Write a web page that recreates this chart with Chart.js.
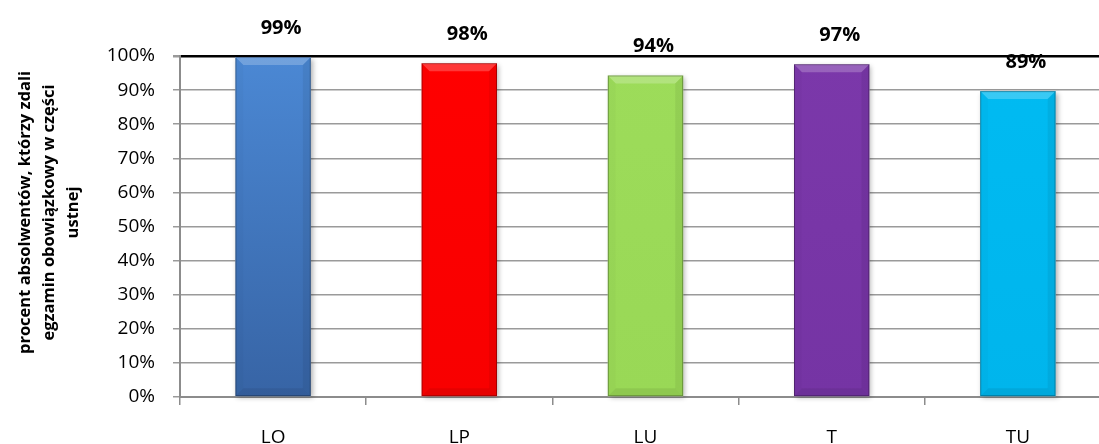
<!DOCTYPE html>
<html><head><meta charset="utf-8">
<script src="https://cdn.jsdelivr.net/npm/chart.js@4/dist/chart.umd.min.js"></script>
<style>
html,body{margin:0;padding:0;background:#fff;overflow:hidden;}
#wrap{position:relative;width:1120px;height:444px;}
</style></head><body>
<div id="wrap"><canvas id="c"></canvas></div>
<script>
const categories = ['LO', 'LP', 'LU', 'T', 'TU'];
const values = [99.7, 97.9, 94.3, 97.6, 89.7];
const valueLabels = ['99%', '98%', '94%', '97%', '89%'];
const axisTitle = ['procent absolwentów, którzy zdali', 'egzamin obowiązkowy w części', 'ustnej'];
const colorsTop = ['#4b88d4', '#ff0000', '#9ddc5a', '#7b38aa', '#00bbf2'];
const colorsBottom = ['#3764a5', '#f80000', '#99d856', '#7534a4', '#00b5ec'];

const FONT = "'Open Sans', 'Liberation Sans', sans-serif";

const shadowPlugin = {
  id: 'barShadow',
  beforeDatasetsDraw(chart) {
    const ctx = chart.ctx;
    const meta = chart.getDatasetMeta(0);
    ctx.save();
    ctx.shadowColor = 'rgba(0,0,0,0.3)';
    ctx.shadowBlur = 5;
    ctx.shadowOffsetX = 2;
    ctx.shadowOffsetY = 2;
    ctx.fillStyle = '#ffffff';
    meta.data.forEach(bar => {
      const w = bar.width;
      ctx.fillRect(bar.x - w / 2, bar.y, w, bar.base - bar.y);
    });
    ctx.restore();
  }
};

const bevelPlugin = {
  id: 'bevel',
  afterDatasetsDraw(chart) {
    const ctx = chart.ctx;
    const meta = chart.getDatasetMeta(0);
    const b = 8;
    ctx.save();
    meta.data.forEach(bar => {
      const l = bar.x - bar.width / 2, r = bar.x + bar.width / 2, t = bar.y, btm = bar.base;
      ctx.fillStyle = 'rgba(255,255,255,0.22)';
      ctx.beginPath();
      ctx.moveTo(l, t); ctx.lineTo(r, t); ctx.lineTo(r - b, t + b); ctx.lineTo(l + b, t + b); ctx.closePath();
      ctx.fill();
      ctx.fillStyle = 'rgba(0,0,0,0.06)';
      ctx.beginPath();
      ctx.moveTo(r, t); ctx.lineTo(r, btm); ctx.lineTo(r - b, btm - b); ctx.lineTo(r - b, t + b); ctx.closePath();
      ctx.fill();
      ctx.fillStyle = 'rgba(0,0,0,0.02)';
      ctx.beginPath();
      ctx.moveTo(l, t); ctx.lineTo(l + b, t + b); ctx.lineTo(l + b, btm - b); ctx.lineTo(l, btm); ctx.closePath();
      ctx.fill();
      ctx.fillStyle = 'rgba(0,0,0,0.07)';
      ctx.beginPath();
      ctx.moveTo(l, btm); ctx.lineTo(l + b, btm - b); ctx.lineTo(r - b, btm - b); ctx.lineTo(r, btm); ctx.closePath();
      ctx.fill();
      ctx.strokeStyle = 'rgba(0,0,0,0.3)';
      ctx.lineWidth = 1;
      ctx.strokeRect(l + 0.5, t + 0.5, bar.width - 1, btm - t - 1);
    });
    ctx.restore();
  }
};

const labelPlugin = {
  id: 'valueLabels',
  afterDraw(chart) {
    const ctx = chart.ctx;
    const meta = chart.getDatasetMeta(0);
    ctx.save();
    ctx.font = "bold 20px " + FONT;
    ctx.fillStyle = '#000';
    ctx.textAlign = 'center';
    ctx.textBaseline = 'middle';
    meta.data.forEach((bar, i) => {
      ctx.fillText(valueLabels[i], bar.x + 8, bar.y - 29);
    });
    ctx.restore();
  }
};

const titlePlugin = {
  id: 'yTitle',
  afterDraw(chart) {
    const ctx = chart.ctx;
    const a = chart.chartArea;
    const cy = (a.top + a.bottom) / 2 - 14;
    ctx.save();
    ctx.font = "bold 16.5px " + FONT;
    ctx.fillStyle = '#000';
    ctx.textAlign = 'center';
    ctx.textBaseline = 'middle';
    axisTitle.forEach((line, i) => {
      ctx.save();
      ctx.translate(25 + i * 24, cy);
      ctx.rotate(-Math.PI / 2);
      ctx.fillText(line, 0, 0);
      ctx.restore();
    });
    ctx.restore();
  }
};

const el = document.getElementById('c');
new Chart(el, {
  type: 'bar',
  data: {
    labels: categories,
    datasets: [{
      data: values,
      backgroundColor: (c) => {
        const i = c.dataIndex;
        const chart = c.chart;
        const area = chart.chartArea;
        if (!area || i === undefined) return colorsTop[i || 0];
        const g = chart.ctx.createLinearGradient(0, area.top, 0, area.bottom);
        g.addColorStop(0, colorsTop[i]);
        g.addColorStop(1, colorsBottom[i]);
        return g;
      },
      borderWidth: 0,
      barPercentage: 0.405,
      categoryPercentage: 1
    }]
  },
  options: {
    responsive: true,
    maintainAspectRatio: false,
    animation: false,
    layout: { padding: { top: 56, right: 9, left: 0, bottom: 0 } },
    plugins: { legend: { display: false }, tooltip: { enabled: false } },
    scales: {
      x: {
        grid: { drawOnChartArea: false, drawTicks: true, tickLength: 8, color: '#8c8c8c', lineWidth: 1.5, offset: true },
        border: { color: '#8c8c8c', width: 2 },
        ticks: { font: { family: FONT, size: 19 }, color: '#000', padding: 21 },
        afterFit: (s) => { s.height = 47; }
      },
      y: {
        min: 0, max: 100,
        ticks: { stepSize: 10, callback: (v) => v + '%', font: { family: FONT, size: 19 }, color: '#000', padding: 18 },
        grid: {
          color: (c) => (c.tick && c.tick.value === 100) ? '#000' : '#9a9a9a',
          lineWidth: (c) => (c.tick && c.tick.value === 100) ? 2.5 : 1.5,
          tickColor: '#9a9a9a',
          tickLength: 7
        },
        border: { color: '#8c8c8c', width: 2 },
        afterFit: (s) => { s.width = 180; }
      }
    }
  },
  plugins: [shadowPlugin, bevelPlugin, labelPlugin, titlePlugin]
});
</script>
</body></html>
